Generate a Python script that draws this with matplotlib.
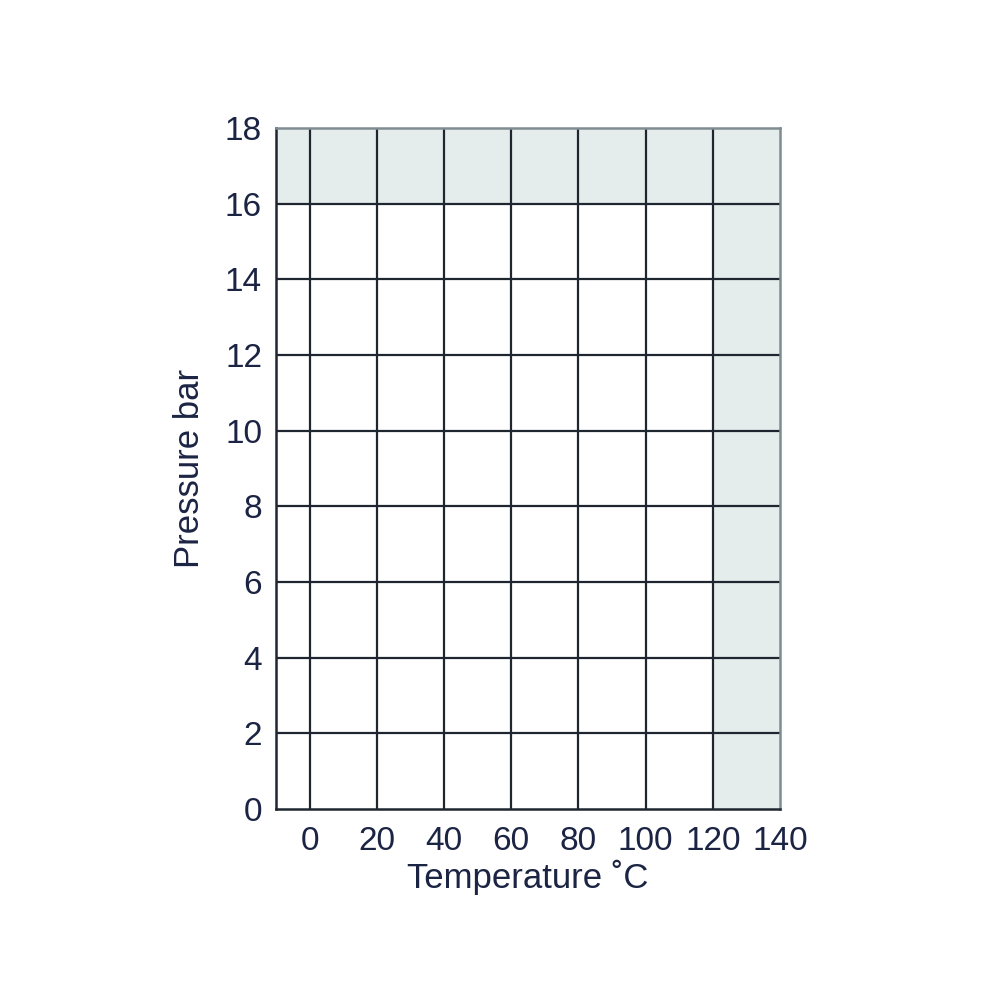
import matplotlib
matplotlib.use("Agg")
import matplotlib.pyplot as plt

# axis ranges and ticks
x_ticks = [0, 20, 40, 60, 80, 100, 120, 140]
y_ticks = [0, 2, 4, 6, 8, 10, 12, 14, 16, 18]
x_min, x_max = -10, 140
y_min, y_max = 0, 18

# shaded zones (outside the rated range)
shade_temp_from = 120
shade_pres_from = 16

text_col = "#1c2444"
grid_col = "#1f2630"
shade_col = "#e5ecec"

plt.rcParams['font.family'] = ['Liberation Sans', 'DejaVu Sans']

fig = plt.figure(figsize=(10.01, 10.01), dpi=100)
ax = fig.add_axes([0.2757, 0.1918, 0.5035, 0.6803])

ax.axvspan(shade_temp_from, x_max, color=shade_col, zorder=0, lw=0)
ax.axhspan(shade_pres_from, y_max, xmax=(shade_temp_from - x_min) / (x_max - x_min),
           color=shade_col, zorder=0, lw=0)

for xv in x_ticks[:-1]:
    ax.axvline(xv, color=grid_col, lw=1.6, zorder=1)
for yv in y_ticks[1:-1]:
    ax.axhline(yv, color=grid_col, lw=1.6, zorder=1)

ax.set_xlim(x_min, x_max)
ax.set_ylim(y_min, y_max)
ax.set_xticks(x_ticks)
ax.set_yticks(y_ticks)
ax.tick_params(length=0, labelsize=24, labelcolor=text_col)
ax.tick_params(axis='x', pad=12)
ax.tick_params(axis='y', pad=10)

for side in ['left', 'bottom']:
    ax.spines[side].set_color(grid_col)
    ax.spines[side].set_linewidth(1.8)
for side in ['top', 'right']:
    ax.spines[side].set_color("#7f8c92")
    ax.spines[side].set_linewidth(1.8)

ax.set_xlabel("Temperature ˚C", fontsize=25, color=text_col, labelpad=2)
ax.set_ylabel("Pressure bar", fontsize=25, color=text_col, labelpad=14)

fig.savefig("out.png", dpi=100, facecolor="white")
